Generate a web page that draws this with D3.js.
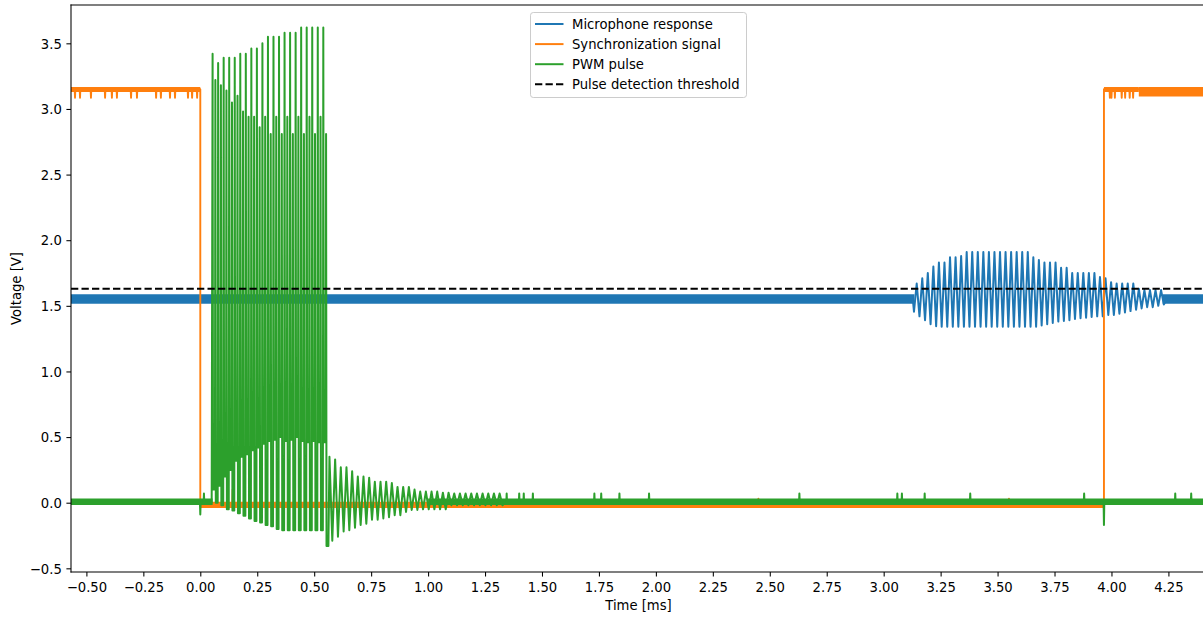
<!DOCTYPE html>
<html><head><meta charset="utf-8">
<script src="https://cdn.jsdelivr.net/npm/d3@7"></script>
<style>body{margin:0;background:#fff} text{font-family:"DejaVu Sans",sans-serif}</style>
</head><body><svg id="c" width="1203" height="619"></svg>
<script>
// ---------------- data ----------------
const xTicks = [-0.5,-0.25,0,0.25,0.5,0.75,1,1.25,1.5,1.75,2,2.25,2.5,2.75,3,3.25,3.5,3.75,4,4.25];
const yTicks = [-0.5,0,0.5,1,1.5,2,2.5,3,3.5];
const seriesNames = ["Microphone response","Synchronization signal","PWM pulse","Pulse detection threshold"];
const threshold = 1.63;
const tRange = [-0.58, 4.5];

// Microphone response (V)
const micBase = 1.55;
const micBands = [[-0.58, 3.135, 1.515, 1.588], [4.225, 4.5, 1.515, 1.588]];
const micPreDip = [3.133, 1.455];
const micBurstStart = 3.145, micPeriod = 0.02438;
const micPeak = [1.67,1.71,1.75,1.80,1.83,1.83,1.87,1.87,1.88,
  1.91,1.91,1.91,1.91,1.91,1.91,1.91,1.91,1.91,1.91,1.91,1.91,
  1.87,1.85,1.83,1.83,1.83,1.79,1.79,1.75,1.75,1.75,1.75,1.75,1.72,1.71,1.68,1.67,1.67,1.67,1.67,1.63,1.62,1.62,1.62,1.62];
const micTrough = [1.42,1.39,1.36,1.345,1.34,1.34,1.34,1.34,1.34,
  1.34,1.34,1.34,1.34,1.34,1.34,1.34,1.34,1.34,1.34,1.34,1.34,
  1.34,1.35,1.36,1.37,1.38,1.385,1.39,1.40,1.405,1.41,1.415,1.42,1.42,1.43,1.43,1.44,1.45,1.46,1.47,1.48,1.49,1.49,1.50,1.51];

// Synchronization signal (V)
const syncHigh = 3.15, syncLow = -0.028, syncDrop = 3.085;
const syncEdges = [0.0, 3.967];
const syncBands = [[-0.58, 0, 3.13, 3.168], [0, 3.967, -0.04, 0.008], [3.967, 4.12, 3.13, 3.168], [4.12, 4.5, 3.095, 3.168]];
const syncDropTimes = [-0.55,-0.528,-0.48,-0.418,-0.388,-0.366,-0.304,-0.278,-0.194,-0.173,-0.133,-0.111,-0.054,-0.036,-0.014,
  3.993,4.0,4.015,4.045,4.06,4.08,4.095];
const syncLowSpikes = [[0.095,0.02],[0.118,0.04],[0.142,0.10],[0.243,0.08],[0.267,0.04],[0.338,0.04],[2.45,0.03],[3.55,0.03]];

// PWM pulse (V)
const pwmBase = 0.0;
const pwmBands = [[-0.58, 0.054, -0.018, 0.032], [1.0, 4.5, -0.018, 0.032]];
const pwmStart = 0.054, pwmPeriod = 0.0243;
const pwmPeak     = [3.42,3.35,3.39,3.39,3.39,3.42,3.42,3.46,3.46,3.50,3.55,3.55,3.55,3.58,3.58,3.58,3.62,3.62,3.62,3.62,3.62];
const pwmRingLow  = [0.10,0.13,0.20,0.25,0.32,0.35,0.37,0.40,0.42,0.45,0.47,0.48,0.50,0.47,0.48,0.50,0.47,0.46,0.47,0.46,0.46];
const pwmShoulder = [3.22,3.18,3.14,3.05,3.10,2.98,2.94,2.94,2.86,2.94,2.81,2.94,2.81,2.94,2.81,2.94,2.81,2.94,2.81,2.94,2.81];
const pwmTrough   = [0.0,-0.02,-0.05,-0.06,-0.08,-0.10,-0.12,-0.14,-0.15,-0.17,-0.18,-0.20,-0.21,-0.21,-0.21,-0.21,-0.21,-0.21,-0.21,-0.21,-0.33];
const ringStart = 0.567, ringPeriod = 0.0249;
const ringPeak   = [0.35,0.33,0.27,0.27,0.24,0.20,0.20,0.19,0.16,0.16,0.16,0.15,0.12,0.12,0.12,0.10,0.085,0.085,0.085,0.085,0.076,0.076,0.07,0.07,0.07,0.07,0.07,0.07,0.07,0.07,0.07];
const ringTrough = [-0.29,-0.26,-0.22,-0.21,-0.19,-0.17,-0.16,-0.13,-0.13,-0.12,-0.11,-0.095,-0.095,-0.07,-0.055,-0.055,-0.05,-0.05,-0.05,-0.05,-0.05,-0.02,-0.02,-0.02,-0.02,-0.02,-0.02,-0.02,-0.02,-0.02,-0.02];
const pwmSpikes = [[0.0,-0.09],[0.016,0.07],[1.345,0.07],[1.40,0.07],[1.42,0.07],[1.46,0.07],[1.73,0.07],[1.76,0.07],[1.84,0.07],[1.97,0.07],
  [2.63,0.07],[3.06,0.07],[3.08,0.07],[3.18,0.07],[3.38,0.07],[3.88,0.07],[3.967,-0.17],[4.28,0.07],[4.35,0.07]];

// ---------------- drawing ----------------
const colors = ["#1f77b4","#ff7f0e","#2ca02c","#000000"];
const plot = {left:71, top:5, right:1206, bottom:572};
const FS = 13.2;
const svg = d3.select("#c");
const x = d3.scaleLinear().domain([-0.5676, 4.415]).range([plot.left, plot.right]);
const y = d3.scaleLinear().domain([-0.528, 3.792]).range([plot.bottom, plot.top]);

svg.append("defs").append("clipPath").attr("id","clip").append("rect")
  .attr("x",plot.left).attr("y",plot.top).attr("width",plot.right-plot.left).attr("height",plot.bottom-plot.top);
const g = svg.append("g").attr("clip-path","url(#clip)");

const EPS = 0.0015;
function flat(t0, t1, level, spikes){
  const pts = [[t0, level]];
  spikes.filter(s => s[0] > t0 && s[0] < t1).sort((a,b)=>a[0]-b[0])
    .forEach(s => pts.push([s[0]-EPS, level],[s[0], s[1]],[s[0]+EPS, level]));
  pts.push([t1, level]);
  return pts;
}
const line = d3.line().x(d => x(d[0])).y(d => y(d[1]));
const area = d3.area().x(d => x(d[0])).y0(d => y(d[1])).y1(d => y(d[2]));
function drawBands(bands, color){
  bands.forEach(b => g.append("path").attr("d", area([[b[0],b[2],b[3]],[b[1],b[2],b[3]]])).attr("fill", color));
}
function drawLine(pts, color, w){
  g.append("path").attr("d", line(pts)).attr("fill","none").attr("stroke",color)
    .attr("stroke-width", w).attr("stroke-linejoin","round").attr("stroke-linecap","butt");
}

// Microphone
let mic = flat(tRange[0], micPreDip[0]-0.005, micBase, []);
mic.push(micPreDip);
micPeak.forEach((v,i) => { const t = micBurstStart + i*micPeriod; mic.push([t, v],[t + micPeriod/2, micTrough[i]]); });
mic = mic.concat(flat(micBurstStart + micPeak.length*micPeriod, tRange[1], micBase, []));
drawBands(micBands, colors[0]);
drawLine(mic, colors[0], 2);

// Sync
const syncDrops = syncDropTimes.map(t => [t, syncDrop]);
let sync = flat(tRange[0], syncEdges[0], syncHigh, syncDrops)
  .concat(flat(syncEdges[0], syncEdges[1], syncLow, syncLowSpikes))
  .concat(flat(syncEdges[1], tRange[1], syncHigh, syncDrops));
drawBands(syncBands, colors[1]);
drawLine(sync, colors[1], 1.9);

// PWM
let pwm = flat(tRange[0], pwmStart - 0.004, pwmBase, pwmSpikes);
pwmPeak.forEach((v,i) => {
  const t = pwmStart + i*pwmPeriod, p = pwmPeriod;
  pwm.push([t, v],[t+0.08*p, pwmRingLow[i]],[t+0.42*p, pwmRingLow[i]],
           [t+0.5*p, pwmShoulder[i]],[t+0.58*p, pwmTrough[i]],[t+0.92*p, pwmTrough[i]]);
});
ringPeak.forEach((v,i) => { const t = ringStart + i*ringPeriod; pwm.push([t, v],[t + ringPeriod/2, ringTrough[i]]); });
pwm = pwm.concat(flat(ringStart + ringPeak.length*ringPeriod, tRange[1], pwmBase, pwmSpikes));
drawBands(pwmBands, colors[2]);
drawLine(pwm, colors[2], 2);

// Threshold
g.append("path").attr("d", line([[-0.5676, threshold],[tRange[1], threshold]]))
  .attr("fill","none").attr("stroke","#000").attr("stroke-width",1.98).attr("stroke-dasharray","7.3,3.2");

// Axes
const fmtX = d3.format(".2f"), fmtY = d3.format(".1f");
const xa = svg.append("g").attr("transform",`translate(0,${plot.bottom})`)
  .call(d3.axisBottom(x).tickValues(xTicks).tickFormat(fmtX).tickSize(4.6).tickPadding(6.5).tickSizeOuter(0));
const ya = svg.append("g").attr("transform",`translate(${plot.left},0)`)
  .call(d3.axisLeft(y).tickValues(yTicks).tickFormat(fmtY).tickSize(4.6).tickPadding(4.6).tickSizeOuter(0));
[xa, ya].forEach(a => {
  a.select(".domain").remove();
  a.attr("font-family", null).attr("font-size", null);
  a.selectAll("line").attr("stroke","#000").attr("stroke-width",1.06);
  a.selectAll("text").attr("fill","#000").style("font-size", FS+"px").style("font-family","'DejaVu Sans'");
});
ya.selectAll("text").attr("dy","0.36em");

// Spines
const spine = (x1,y1,x2,y2) => svg.append("line").attr("x1",x1).attr("y1",y1).attr("x2",x2).attr("y2",y2)
  .attr("stroke","#000").attr("stroke-width",1.06).attr("stroke-linecap","square");
spine(plot.left, plot.top, plot.left, plot.bottom);
spine(plot.left, plot.bottom, plot.right, plot.bottom);
spine(plot.left, plot.top, plot.right, plot.top);
spine(plot.right, plot.top, plot.right, plot.bottom);

// Axis labels
svg.append("text").attr("x", (plot.left+plot.right)/2).attr("y", 610).attr("text-anchor","middle")
  .style("font-size", FS+"px").text("Time [ms]");
svg.append("text").attr("transform",`translate(21,${(plot.top+plot.bottom)/2}) rotate(-90)`).attr("text-anchor","middle")
  .style("font-size", FS+"px").text("Voltage [V]");

// Legend
const lg = svg.append("g");
lg.append("rect").attr("x",530.5).attr("y",12.5).attr("width",216).attr("height",85).attr("rx",2.8)
  .attr("fill","#fff").attr("fill-opacity",0.8).attr("stroke","#cccccc").attr("stroke-width",1);
seriesNames.forEach((name,i) => {
  const ry = 24 + i*20.1;
  const l = lg.append("line").attr("x1",535).attr("x2",563.5).attr("y1",ry).attr("y2",ry)
    .attr("stroke",colors[i]).attr("stroke-width",1.98);
  if (i === 3) l.attr("stroke-dasharray","7.3,3.2");
  lg.append("text").attr("x",572).attr("y",ry+5).style("font-size",FS+"px").text(name);
});
</script></body></html>
